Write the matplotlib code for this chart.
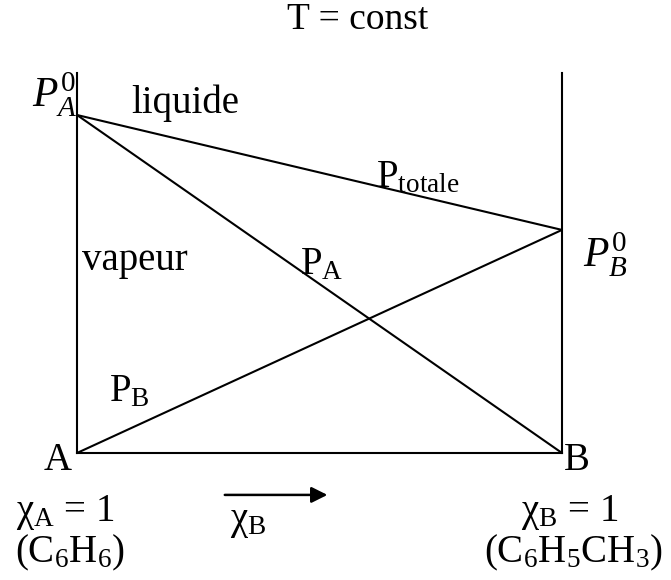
import matplotlib
matplotlib.use('Agg')
import matplotlib.pyplot as plt

plt.rcParams['font.family'] = ['Liberation Serif', 'DejaVu Serif']
plt.rcParams['mathtext.fontset'] = 'custom'
plt.rcParams['mathtext.rm'] = 'Liberation Serif'
plt.rcParams['mathtext.it'] = 'Liberation Serif:italic'
plt.rcParams['mathtext.bf'] = 'Liberation Serif:bold'

# Données : pressions de vapeur (unités arbitraires, P_A0 = 1)
x_B = [0.0, 1.0]
P_A0 = 1.0
P_B0 = 0.66
P_A = [P_A0 * (1 - x) for x in x_B]
P_B = [P_B0 * x for x in x_B]
P_tot = [a + b for a, b in zip(P_A, P_B)]

fig = plt.figure(figsize=(6.71, 5.8), dpi=100)
ax = fig.add_axes([77 / 671, 1 - 453 / 580, 485 / 671, 380 / 580])

ax.plot(x_B, P_A, color='black', lw=1.5)
ax.plot(x_B, P_B, color='black', lw=1.5)
ax.plot(x_B, P_tot, color='black', lw=1.5)

ax.set_xlim(0, 1)
ax.set_ylim(0, 380 / 338)
ax.set_xticks([])
ax.set_yticks([])
ax.spines['top'].set_visible(False)
for s in ['left', 'right', 'bottom']:
    ax.spines[s].set_linewidth(1.5)

fs = 28
ax.text(0.579, 1.281, 'T = const', fontsize=27, ha='center', va='center')
ax.text(-0.045, 1.059, r'$P_A^{\mathrm{0}}$', fontsize=fs + 2, ha='center', va='center')
ax.text(0.223, 1.036, 'liquide', fontsize=fs, ha='center', va='center')
ax.text(0.703, 0.814, r'P$_\mathrm{totale}$', fontsize=fs, ha='center', va='center')
ax.text(1.089, 0.586, r'$P_B^{\mathrm{0}}$', fontsize=fs + 2, ha='center', va='center')
ax.text(0.12, 0.571, 'vapeur', fontsize=fs, ha='center', va='center')
ax.text(0.505, 0.556, r'P$_\mathrm{A}$', fontsize=fs, ha='center', va='center')
ax.text(0.109, 0.18, r'P$_\mathrm{B}$', fontsize=fs, ha='center', va='center')
ax.text(-0.039, -0.021, 'A', fontsize=fs, ha='center', va='center')
ax.text(1.031, -0.021, 'B', fontsize=fs, ha='center', va='center')

ax.text(-0.025, -0.175, r'χ$_\mathrm{A}$ = 1', fontsize=fs, ha='center', va='center')
ax.text(-0.014, -0.296, r'(C$_6$H$_6$)', fontsize=fs, ha='center', va='center')
ax.text(1.016, -0.175, r'χ$_\mathrm{B}$ = 1', fontsize=fs, ha='center', va='center')
ax.text(1.023, -0.296, r'(C$_6$H$_5$CH$_3$)', fontsize=fs, ha='center', va='center')
ax.text(0.353, -0.204, r'χ$_\mathrm{B}$', fontsize=fs, ha='center', va='center')
ax.annotate('', xy=(0.522, -0.124), xytext=(0.299, -0.124),
            arrowprops=dict(arrowstyle='-|>', color='black', lw=1.8, mutation_scale=24),
            annotation_clip=False)

fig.savefig('out.png', dpi=100)
